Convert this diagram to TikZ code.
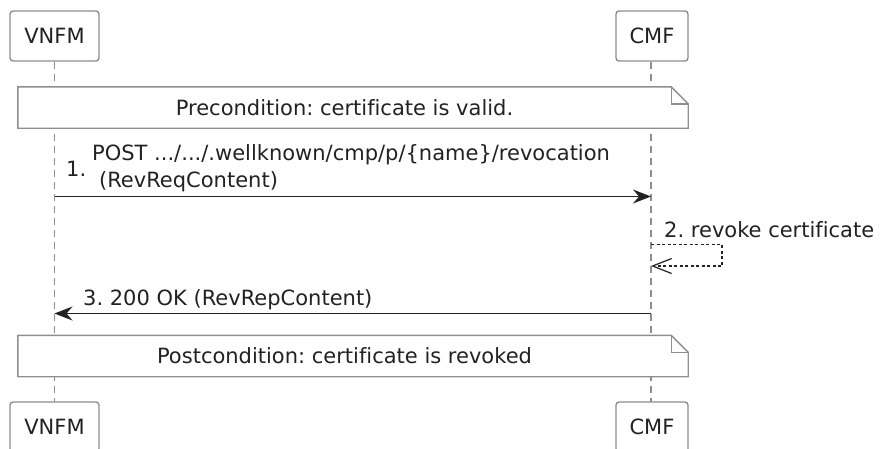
\documentclass[tikz,border=0pt]{standalone}
\usepackage{fontspec}
\setmainfont[Ligatures=NoCommon]{DejaVu Sans}
\usetikzlibrary{arrows.meta,calc}
\definecolor{framegray}{HTML}{8E8E8E}
\definecolor{inkgray}{HTML}{222222}
\frenchspacing
\begin{document}
\begin{tikzpicture}[x=1pt,y=-1pt,
  font=\fontsize{21}{26.7}\selectfont, text=inkgray,
  actor/.style={draw=framegray, line width=1.4pt, rounded corners=3pt,
    fill=white, minimum height=50pt, inner sep=0pt},
  notebox/.style={minimum height=41pt, minimum width=653pt, inner sep=0pt},
  noteline/.style={draw=framegray, line width=1.4pt, fill=white},
  lifeline/.style={draw=framegray, line width=1.4pt, dash pattern=on 7pt off 5pt},
  msg/.style={draw=inkgray, line width=1.5pt,
    -{Stealth[length=18pt,width=14pt,inset=6pt]}},
  selfmsg/.style={draw=inkgray, line width=1.2pt, dash pattern=on 3pt off 2.5pt,
    -{Straight Barb[length=19pt,width=15pt,line width=1.2pt]}},
  lbl/.style={anchor=west, inner sep=0pt, align=left}]
\clip (0,0) rectangle (881,448);
\fill[white] (0,0) rectangle (881,448);

% participants, top and bottom
\node[actor, minimum width=89pt] (vnfmT) at (54.5,36) {VNFM};
\node[actor, minimum width=72pt] (cmfT) at (652,36) {CMF};
\node[actor, minimum width=89pt] (vnfmB) at (54.5,427) {VNFM};
\node[actor, minimum width=72pt] (cmfB) at (652,427) {CMF};

% lifelines
\coordinate (vT) at (54.5,61.5);
\coordinate (vB) at (54.5,402);
\coordinate (cT) at (651,61.5);
\coordinate (cB) at (651,402);
\draw[lifeline] (vT) -- (vB);
\draw[lifeline] (cT) -- (cB);

% precondition note
\node[notebox] (pre) at (344.5,107.5) {};
\draw[noteline] (pre.south west) -- (pre.north west) -- (pre.north east)
  -- ++(17,17) |- cycle;
\draw[draw=framegray, line width=1.4pt] (pre.north east) -- ++(0,17) -- ++(17,0);
\node at (pre.center) {Precondition: certificate is valid.};

% message 1
\coordinate (m1a) at (54.5,196.5);
\coordinate (m1b) at (651,196.5);
\draw[msg] (m1a) -- (m1b);
\node[lbl] (n1) at (66,169) {1.};
\node[lbl] (t1) at (92,168.5) {POST .../.../.wellknown/cmp/p/\{name\}/revocation\\\hspace*{0.33em}(RevReqContent)};

% message 2: self call on CMF
\coordinate (m2a) at (651,244.5);
\coordinate (m2b) at (651,266);
\draw[selfmsg] (m2a) -- (722,244.5) -- (722,266) -- (m2b);
\node[lbl] (t2) at (664,230) {2. revoke certificate};

% message 3
\coordinate (m3a) at (651,313.5);
\coordinate (m3b) at (54.5,313.5);
\draw[msg] (m3a) -- (m3b);
\node[lbl] (t3) at (83,300) {3. 200 OK (RevRepContent)};

% postcondition note
\node[notebox] (post) at (344.5,356) {};
\draw[noteline] (post.south west) -- (post.north west) -- (post.north east)
  -- ++(17,17) |- cycle;
\draw[draw=framegray, line width=1.4pt] (post.north east) -- ++(0,17) -- ++(17,0);
\node at (post.center) {Postcondition: certificate is revoked};
\end{tikzpicture}
\end{document}
